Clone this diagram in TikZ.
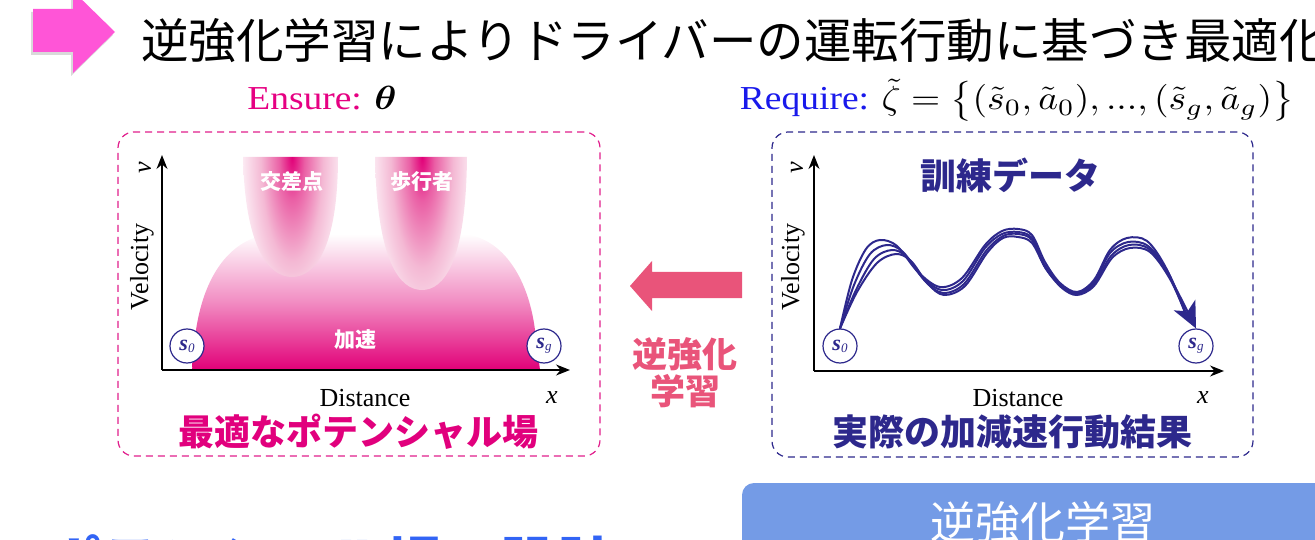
\documentclass[tikz,border=0pt]{standalone}
\usepackage{amsmath}
\usepackage{bm}
\usepackage{fontspec}
\setmainfont{Liberation Serif}
\newfontfamily\jp{Noto Sans CJK JP}
\usetikzlibrary{arrows.meta}
\definecolor{titlepink}{RGB}{255,85,215}
\definecolor{ensmag}{RGB}{230,0,130}
\definecolor{reqblue}{RGB}{25,25,235}
\definecolor{pdash}{RGB}{225,30,140}
\definecolor{pfield}{RGB}{225,0,120}
\definecolor{ptext}{RGB}{225,0,125}
\definecolor{navy}{RGB}{45,40,140}
\definecolor{midpink}{RGB}{233,84,122}
\definecolor{boxblue}{RGB}{116,155,230}
\definecolor{botblue}{RGB}{50,100,245}
\definecolor{bl0}{RGB}{225,0,120}
\definecolor{bl1}{RGB}{234,95,165}
\definecolor{bl2}{RGB}{244,185,212}
\definecolor{bl3}{RGB}{252,236,244}
\pgfdeclareradialshading{bulletshade}{\pgfpoint{0bp}{0bp}}{color(0bp)=(bl0); color(6bp)=(bl1); color(15bp)=(bl2); color(24bp)=(bl3); color(50bp)=(bl3)}
\newcommand{\stlab}[1]{{\fontsize{22}{22}\selectfont\bfseries\itshape s}{\fontsize{13}{13}\selectfont\itshape\raisebox{-2pt}{#1}}}
\begin{document}
\begin{tikzpicture}[x=1pt,y=-1pt,
  frame/.style={rounded corners=16pt, line width=1.2pt, dash pattern=on 7pt off 5pt, minimum width=#1},
  axis/.style={line width=1.3pt, -{Stealth[length=14pt,width=11pt]}},
  axfont/.style={font=\fontsize{26}{28}\selectfont},
  stnode/.style={circle, draw=navy, fill=white, line width=1.2pt, minimum size=34pt, inner sep=0pt, text=navy},
  whitelab/.style={text=white, font=\jp\bfseries\fontsize{21}{23}\selectfont},
  biglab/.style={font=\jp\bfseries\fontsize{36}{38}\selectfont},
  traj/.style={navy, line width=2pt, line cap=round},
  headtext/.style={anchor=base, inner sep=0pt, xscale=3.75, yscale=3.35, font=\fontsize{10}{12}\selectfont}
]
\useasboundingbox (0,0) rectangle (1315,540);
\clip (0,0) rectangle (1315,540);

% title arrow
\fill[black,opacity=0.15] (31,12) -- (71,12) -- (71,-6) -- (113,35) -- (71,76) -- (71,55) -- (31,55) -- cycle;
\fill[titlepink] (33,9) -- (73,9) -- (73,-9) -- (115,32) -- (73,73) -- (73,52) -- (33,52) -- cycle;
\node[anchor=base west, inner sep=0pt, font=\jp\fontsize{47.5}{50}\selectfont] (title) at (141,59) {逆強化学習によりドライバーの運転行動に基づき最適化};

% Ensure / Require
\node[headtext] (ensure) at (322,110) {\textcolor{ensmag}{Ensure:} $\bm{\theta}$};
\node[headtext] (require) at (1017,110) {\textcolor{reqblue}{Require:} $\tilde{\zeta}=\big\{(\tilde{s}_0,\tilde{a}_0),...,(\tilde{s}_g,\tilde{a}_g)\big\}$};

% ---------- left panel ----------
\node[frame=482pt, draw=pdash, minimum height=324pt] (lbox) at (359,294) {};
% dome
\shade[top color=white, bottom color=pfield, middle color=pfield!45]
  (192,370) -- (196,330) .. controls (205,270) and (235,235) .. (275,234) -- (460,234)
  .. controls (500,235) and (528,275) .. (535,330) -- (540,370) -- cycle;
% bullets
\begin{scope}
\clip (243,157) .. controls (245,250) and (270,277) .. (292,277) .. controls (314,277) and (338,250) .. (338,157) -- cycle;
\shade[shading=bulletshade] (292,157) ellipse [x radius=52pt, y radius=175pt];
\end{scope}
\begin{scope}
\clip (375,157) .. controls (377,262) and (400,290) .. (422,290) .. controls (444,290) and (466,262) .. (467,157) -- cycle;
\shade[shading=bulletshade] (422,157) ellipse [x radius=52pt, y radius=185pt];
\end{scope}
\node[whitelab] (kousa) at (292,182) {交差点};
\node[whitelab] (hokou) at (422,182) {歩行者};
\node[whitelab] (kasoku) at (355,340) {加速};
% axes
\coordinate (lo) at (162,370);
\coordinate (lvt) at (162,155);
\coordinate (lxt) at (570,370);
\draw[axis] (lo) -- (lvt);
\draw[axis] (lo) -- (lxt);
\node[axfont, rotate=90] (lvel) at (142,267) {Velocity};
\node[axfont, rotate=90] (lv) at (145,168) {\itshape v};
\node[axfont] (ldist) at (365,398) {Distance};
\node[axfont] (lx) at (552,398) {\itshape x};
\node[stnode] (ls0) at (187,346) {\stlab{0}};
\node[stnode] (lsg) at (544,346) {\stlab{g}};
\node[biglab, text=ptext] (lcap) at (358,432) {最適なポテンシャル場};

% ---------- middle arrow ----------
\fill[midpink] (630,286) -- (652,261) -- (652,272) -- (742,272) -- (742,298) -- (652,298) -- (652,311) -- cycle;
\node[align=center, text=midpink, font=\jp\bfseries\fontsize{35}{37}\selectfont] (irl) at (685,373) {逆強化\\学習};

% ---------- right panel ----------
\node[frame=481pt, draw=navy, minimum height=325pt] (rbox) at (1012.5,294.5) {};
\coordinate (ro) at (814,371);
\coordinate (rvt) at (814,155);
\coordinate (rxt) at (1224,371);
\draw[axis] (ro) -- (rvt);
\draw[axis] (ro) -- (rxt);
\node[axfont, rotate=90] (rvel) at (793,267) {Velocity};
\node[axfont, rotate=90] (rv) at (797,168) {\itshape v};
\node[axfont] (rdist) at (1018,398) {Distance};
\node[axfont] (rx) at (1203,398) {\itshape x};
\node[biglab, text=navy] (rtop) at (1010,175) {訓練データ};
\node[biglab, text=navy] (rcap) at (1012,432) {実際の加減速行動結果};
\node[stnode] (rs0) at (840,346) {\stlab{0}};
\node[stnode] (rsg) at (1196,346) {\stlab{g}};
% trajectories
\draw[traj] plot[smooth, tension=0.55] coordinates {(rs0.north) (852,280) (866,249) (880,240) (897,246) (918,272) (940,287) (962,278) (985,245) (1002,231) (1018,229) (1032,235) (1045,262) (1060,283) (1077,292) (1094,280) (1110,250) (1127,238) (1147,241) (1166,268) (1186,315)};
\draw[traj] plot[smooth, tension=0.55] coordinates {(rs0.north) (854,285) (870,254) (887,245) (903,252) (922,277) (942,290) (963,281) (985,248) (1002,234) (1018,232) (1032,238) (1044,264) (1060,284) (1077,293) (1094,282) (1110,253) (1128,242) (1148,246) (1168,272) (1187,316)};
\draw[traj] plot[smooth, tension=0.55] coordinates {(rs0.north) (857,292) (877,263) (896,254) (911,261) (928,284) (944,295) (965,286) (987,253) (1003,238) (1018,237) (1032,243) (1046,269) (1062,288) (1077,295) (1094,286) (1112,258) (1130,248) (1150,252) (1170,279) (1188,318)};
\draw[traj, -{Stealth[length=26pt,width=24pt,inset=7pt]}] plot[smooth, tension=0.55] coordinates {(rs0.north) (856,290) (874,259) (892,250) (907,257) (925,281) (943,293) (964,284) (986,251) (1003,236) (1018,234) (1032,240) (1045,267) (1061,286) (1077,294) (1094,284) (1111,256) (1129,245) (1149,249) (1169,276) (rsg.north)};

% ---------- bottom ----------
\fill[boxblue, rounded corners=12pt] (742,483) rectangle (1360,620);
\node[text=white, font=\jp\fontsize{45}{48}\selectfont] (irlbox) at (1043,522) {逆強化学習};
\node[text=botblue, font=\jp\bfseries\fontsize{57}{60}\selectfont] (design) at (330,563) {ポテンシャル場の設計};
\end{tikzpicture}
\end{document}
